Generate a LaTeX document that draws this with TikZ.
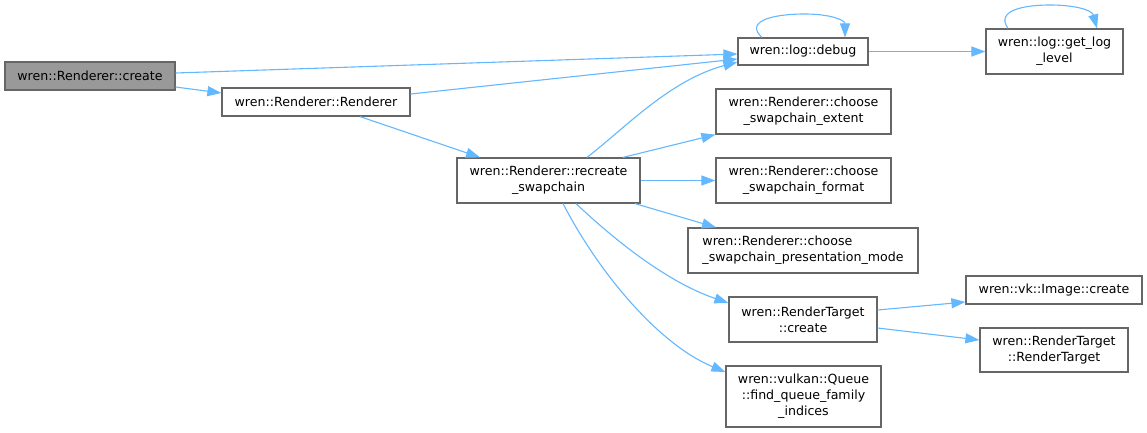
\documentclass[tikz,border=0pt]{standalone}
\usepackage{fontspec}
\setmainfont{DejaVu Sans}
\usetikzlibrary{arrows.meta}
\definecolor{edgec}{HTML}{63B8FF}
\definecolor{boxc}{HTML}{666666}
\definecolor{grayfill}{HTML}{999999}
\begin{document}
\begin{tikzpicture}[x=1pt,y=-1pt,
  box/.style={draw=boxc, line width=1.2pt, fill=white, inner sep=0pt, align=center,
    font=\fontsize{12.6}{16}\selectfont, text=black},
  edge/.style={draw=edgec, line width=1.1pt, -{Triangle[length=14pt,width=10pt]}}]
\useasboundingbox (0,0) rectangle (1147,433);
\fill[white] (0,0) rectangle (1147,433);
\node[box, fill=grayfill, minimum width=170pt, minimum height=28pt] (create) at (90,76) {wren::Renderer::create};
\node[box, minimum width=188pt, minimum height=28pt] (renderer) at (316,102) {wren::Renderer::Renderer};
\node[box, minimum width=130pt, minimum height=27pt] (debug) at (803,51.5) {wren::log::debug};
\node[box, minimum width=137pt, minimum height=45pt] (getlog) at (1054.5,51.5) {wren::log::get\_log\\\_level};
\node[box, minimum width=175pt, minimum height=45pt] (extent) at (803.5,111.5) {wren::Renderer::choose\\\_swapchain\_extent};
\node[box, minimum width=183pt, minimum height=45pt] (recreate) at (548.5,180.5) {wren::Renderer::recreate\\\_swapchain};
\node[box, minimum width=175pt, minimum height=45pt] (format) at (803.5,180.5) {wren::Renderer::choose\\\_swapchain\_format};
\node[box, minimum width=230pt, minimum height=45pt, align=left] (present) at (803,250.5) {wren::Renderer::choose\\\_swapchain\_presentation\_mode};
\node[box, minimum width=148pt, minimum height=45pt] (rtcreate) at (803,319.5) {wren::RenderTarget\\::create};
\node[box, minimum width=176pt, minimum height=28pt] (image) at (1054,290) {wren::vk::Image::create};
\node[box, minimum width=148pt, minimum height=44pt] (rtrt) at (1054,350) {wren::RenderTarget\\::RenderTarget};
\node[box, minimum width=155pt, minimum height=61pt] (queue) at (803.5,396.5) {wren::vulkan::Queue\\::find\_queue\_family\\\_indices};
% edges
\draw[edge] (create.east |- 0,73) -- (debug.west |- 0,54);
\draw[edge] (create.east |- 0,87) -- (renderer.west |- 0,93);
\draw[edge] (renderer.east |- 0,94) -- (debug.west |- 0,59);
\draw[edge] (renderer.south -| 360,0) -- (recreate.north -| 480,0);
\draw[edge] (recreate.north -| 587,0) .. controls (625,128) and (670,80) .. (debug.west |- 0,62);
\draw[edge] (recreate.north -| 623,0) -- (extent.south west);
\draw[edge] (recreate.east) -- (format.west);
\draw[edge] (recreate.south -| 635,0) -- (present.north -| 716,0);
\draw[edge] (recreate.south -| 576,0) .. controls (620,245) and (670,283) .. (rtcreate.west |- 0,303);
\draw[edge] (recreate.south -| 563,0) .. controls (600,275) and (660,345) .. (queue.west |- 0,372);
\draw[edge] (debug.north -| 762,0) .. controls (745,22) and (770,14) .. (805,14) .. controls (830,14) and (845,20) .. (debug.north -| 845,0);
\draw[edge] (debug.east) -- (getlog.west |- 0,51.5);
\draw[edge] (getlog.north -| 1008,0) .. controls (995,10) and (1025,5) .. (1050,5) .. controls (1075,5) and (1092,10) .. (getlog.north -| 1097,0);
\draw[edge] (rtcreate.east |- 0,310) -- (image.west |- 0,302);
\draw[edge] (rtcreate.east |- 0,328) -- (rtrt.west |- 0,340);
\end{tikzpicture}
\end{document}
